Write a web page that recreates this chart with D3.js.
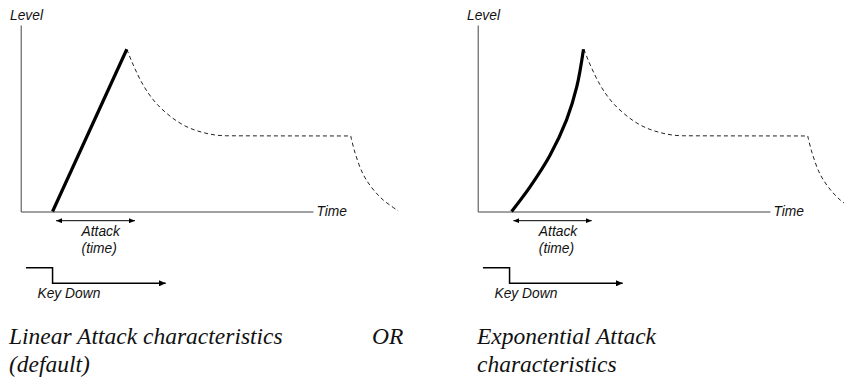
<!DOCTYPE html>
<html>
<head>
<meta charset="utf-8">
<script src="https://cdn.jsdelivr.net/npm/d3@7"></script>
<style>
  html, body { margin: 0; padding: 0; background: #fff; }
  svg { display: block; }
  .axis-label { font-family: "Liberation Sans", Arial, sans-serif; font-style: italic; font-size: 13.8px; fill: #111; }
  .caption { font-family: "Liberation Serif", "Times New Roman", serif; font-style: italic; font-size: 23.5px; fill: #111; }
</style>
</head>
<body>
<svg id="chart" width="844" height="383"></svg>
<script>
// ---------- data ----------
const timeDomain = [0, 10];
const levelDomain = [0, 1];
const axisTitles = ["Level", "Time"];
const attackLabel = ["Attack", "(time)"];
const keyLabel = "Key Down";

// linear attack (time, level)
const linearAttack = [
  { t: 1.09, l: 0 },
  { t: 3.63, l: 0.87 }
];
// exponential attack
const expAttack = [
  { t: 1.16, l: 0 },
  { t: 1.79, l: 0.132 },
  { t: 2.47, l: 0.300 },
  { t: 3.04, l: 0.491 },
  { t: 3.39, l: 0.669 },
  { t: 3.62, l: 0.87 }
];
// decay + sustain (dashed)
const decaySustain = [
  { t: 3.63, l: 0.87 },
  { t: 3.85, l: 0.786 },
  { t: 4.19, l: 0.678 },
  { t: 4.54, l: 0.598 },
  { t: 4.99, l: 0.527 },
  { t: 5.56, l: 0.464 },
  { t: 6.25, l: 0.423 },
  { t: 7.05, l: 0.406 },
  { t: 11.29, l: 0.405 }
];
// release (dashed)
const release = [
  { t: 11.29, l: 0.405 },
  { t: 11.44, l: 0.314 },
  { t: 11.71, l: 0.201 },
  { t: 12.02, l: 0.126 },
  { t: 12.40, l: 0.062 },
  { t: 12.91, l: 0.004 }
];
// attack time span arrow
const attackSpanLinear = [1.21, 3.91];
const attackSpanExp = [1.22, 3.90];
// key-down gate: start, press, arrow end (time units)
const keyDownTimes = [0.18, 1.09, 4.96];

const captionsLeft = ["Linear Attack characteristics", "(default)"];
const captionOr = "OR";
const captionsRight = ["Exponential Attack", "characteristics"];

// ---------- layout ----------
const svg = d3.select("#chart");
const W = 844, H = 383;

const panels = [
  { x0: 20.7, attack: linearAttack, span: attackSpanLinear, curve: d3.curveLinear },
  { x0: 477.7, attack: expAttack, span: attackSpanExp, curve: d3.curveCatmullRom.alpha(0.5) }
];

const axisY0 = 211.5, axisYTop = 25, axisLen = 292.3;

// arrow markers
const defs = svg.append("defs");
function marker(id, len, half, orient) {
  defs.append("marker")
    .attr("id", id)
    .attr("viewBox", `0 ${-half} ${len} ${2 * half}`)
    .attr("refX", len).attr("refY", 0)
    .attr("markerWidth", len).attr("markerHeight", 2 * half)
    .attr("markerUnits", "userSpaceOnUse")
    .attr("orient", orient)
    .append("path")
    .attr("d", `M0,${-half}L${len},0L0,${half}Z`)
    .attr("fill", "#000");
}
marker("arrSmall", 6, 2.5, "auto-start-reverse");
marker("arrKey", 7, 3.2, "auto");

defs.append("clipPath").attr("id", "page")
  .append("rect").attr("x", 0).attr("y", 0).attr("width", W).attr("height", H);

const root = svg.append("g").attr("clip-path", "url(#page)");

panels.forEach((p, i) => {
  const x = d3.scaleLinear().domain(timeDomain).range([p.x0, p.x0 + axisLen]);
  const y = d3.scaleLinear().domain(levelDomain).range([axisY0, axisY0 - 186.5]);
  const g = root.append("g");

  // axes
  const xAxis = d3.axisBottom(x).tickValues([]).tickSizeOuter(0);
  const yTopScale = d3.scaleLinear().domain([0, 1]).range([axisY0, axisYTop]);
  g.append("g").attr("transform", `translate(0,${axisY0})`).call(xAxis)
    .select(".domain").attr("stroke", "#444").attr("stroke-width", 1);
  g.append("g").attr("transform", `translate(${p.x0},0)`).call(d3.axisLeft(yTopScale).tickValues([]).tickSizeOuter(0))
    .select(".domain").attr("stroke", "#444").attr("stroke-width", 1);

  g.append("text").attr("class", "axis-label")
    .attr("x", p.x0 - 10.7).attr("y", 19.5).text(axisTitles[0]);
  g.append("text").attr("class", "axis-label")
    .attr("x", x(timeDomain[1]) + 3.5).attr("y", 215.8).text(axisTitles[1]);

  const line = d3.line().x(d => x(d.t)).y(d => y(d.l));

  // dashed decay/sustain and release
  g.append("path").datum(decaySustain)
    .attr("d", line.curve(d3.curveMonotoneX))
    .attr("fill", "none").attr("stroke", "#222").attr("stroke-width", 1)
    .attr("stroke-dasharray", "4,3");
  g.append("path").datum(release)
    .attr("d", line.curve(d3.curveCatmullRom.alpha(0.5)))
    .attr("fill", "none").attr("stroke", "#222").attr("stroke-width", 1)
    .attr("stroke-dasharray", "4,3");

  // attack
  g.append("path").datum(p.attack)
    .attr("d", line.curve(p.curve))
    .attr("fill", "none").attr("stroke", "#000").attr("stroke-width", 3.2)
    .attr("stroke-linecap", "butt");

  // attack span arrow
  g.append("line")
    .attr("x1", x(p.span[0])).attr("x2", x(p.span[1]))
    .attr("y1", 220.7).attr("y2", 220.7)
    .attr("stroke", "#000").attr("stroke-width", 1)
    .attr("marker-start", "url(#arrSmall)").attr("marker-end", "url(#arrSmall)");

  const labelX = x(p.span[0]) + 25.5;
  g.append("text").attr("class", "axis-label")
    .attr("x", labelX).attr("y", 236).text(attackLabel[0]);
  g.append("text").attr("class", "axis-label")
    .attr("x", labelX).attr("y", 253).text(attackLabel[1]);

  // key down gate
  const kx = keyDownTimes.map(x);
  g.append("path")
    .attr("d", `M${kx[0]},267.7H${kx[1]}V283.3H${kx[2]}`)
    .attr("fill", "none").attr("stroke", "#000").attr("stroke-width", 1.5)
    .attr("marker-end", "url(#arrKey)");
  g.append("text").attr("class", "axis-label")
    .attr("x", kx[0] + 11.5).attr("y", 297.5).text(keyLabel);
});

// captions
const capG = svg.append("g");
capG.selectAll("text.left").data(captionsLeft).join("text")
  .attr("class", "caption left").attr("x", 9).attr("y", (d, i) => 344 + i * 28).text(d => d);
capG.append("text").attr("class", "caption").attr("x", 372).attr("y", 344).text(captionOr);
capG.selectAll("text.right").data(captionsRight).join("text")
  .attr("class", "caption right").attr("x", 477).attr("y", (d, i) => 344 + i * 28).text(d => d);
</script>
</body>
</html>
